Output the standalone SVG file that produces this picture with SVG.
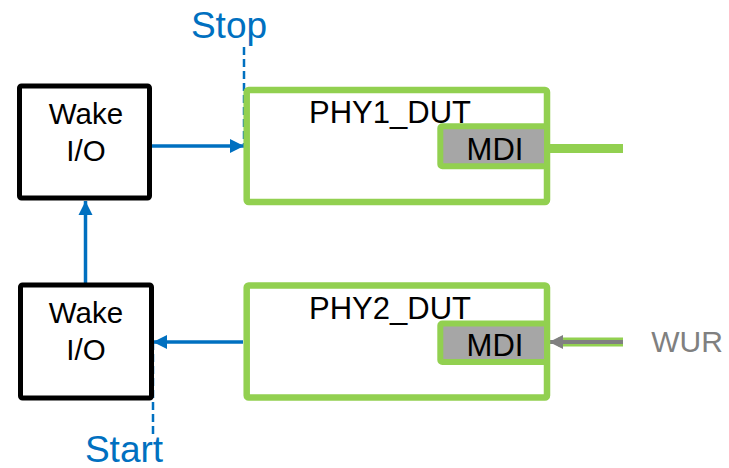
<svg xmlns="http://www.w3.org/2000/svg" width="729" height="468" viewBox="0 0 729 468">
<defs>
<style>
.io{fill:#fff;stroke:#000;stroke-width:5}
.phy{fill:#fff;stroke:#92D050;stroke-width:6.5}
.mdi{fill:#A6A6A6;stroke:#92D050;stroke-width:6}
.t{font-family:"Liberation Sans",Arial,sans-serif;fill:#000;text-anchor:middle}
.blue{stroke:#0070C0;stroke-width:3.5;fill:none}
.dash{stroke:#0070C0;stroke-width:2.5;stroke-dasharray:8 4;fill:none}
.lbl{font-family:"Liberation Sans",Arial,sans-serif;fill:#0070C0;text-anchor:middle;font-size:37px}
</style>
<marker id="ah" viewBox="0 0 10 10" refX="10" refY="5" markerUnits="userSpaceOnUse" markerWidth="14" markerHeight="15" orient="auto">
<path d="M0,0 L10,5 L0,10 Z" fill="#0070C0"/>
</marker>
<marker id="ahg" viewBox="0 0 10 10" refX="10" refY="5" markerUnits="userSpaceOnUse" markerWidth="15" markerHeight="14" orient="auto">
<path d="M0,0 L10,5 L0,10 Z" fill="#808080"/>
</marker>
</defs>
<g id="connectors">
<line class="dash" x1="244" y1="47" x2="244" y2="145"/>
<line class="blue" x1="151" y1="146" x2="244" y2="146" marker-end="url(#ah)"/>
<line class="blue" x1="85.5" y1="283" x2="85.5" y2="201" marker-end="url(#ah)"/>
<line class="dash" x1="153" y1="342" x2="153" y2="436"/>
<line class="blue" x1="243" y1="342" x2="153" y2="342" marker-end="url(#ah)"/>
<line x1="550" y1="148.5" x2="623" y2="148.5" stroke="#92D050" stroke-width="9"/>
<line x1="558" y1="342" x2="623" y2="342" stroke="#92D050" stroke-width="9"/>
<line x1="623" y1="342" x2="549" y2="342" stroke="#808080" stroke-width="4" marker-end="url(#ahg)"/>
</g>
<g id="stop-label"><text class="lbl" x="229" y="38">Stop</text></g>
<g id="start-label"><text class="lbl" x="124" y="462">Start</text></g>
<g id="wake1">
<rect class="io" x="19.5" y="86" width="130" height="112" rx="2"/>
<text class="t" x="86" y="124" font-size="29.5">Wake</text>
<text class="t" x="86" y="161" font-size="29.5">I/O</text>
</g>
<g id="wake2">
<rect class="io" x="20.5" y="285" width="131" height="113" rx="2"/>
<text class="t" x="86" y="323" font-size="29.5">Wake</text>
<text class="t" x="86" y="360" font-size="29.5">I/O</text>
</g>
<g id="phy1">
<rect class="phy" x="246.7" y="90" width="300.3" height="112" rx="2"/>
<text class="t" x="390" y="122.5" font-size="31">PHY1_DUT</text>
<g id="mdi1">
<rect class="mdi" x="440.3" y="126.3" width="106.7" height="40" rx="2"/>
<text class="t" x="495" y="160" font-size="31">MDI</text>
</g>
</g>
<g id="phy2">
<rect class="phy" x="246.7" y="285.5" width="300.3" height="112" rx="2"/>
<text class="t" x="390" y="318.5" font-size="31">PHY2_DUT</text>
<g id="mdi2">
<rect class="mdi" x="440.3" y="323.5" width="106.7" height="38.5" rx="2"/>
<text class="t" x="495" y="356" font-size="31">MDI</text>
</g>
</g>
<g id="wur"><text x="687" y="352" font-family="'Liberation Sans',Arial,sans-serif" font-size="30" fill="#808080" text-anchor="middle">WUR</text></g>
</svg>
